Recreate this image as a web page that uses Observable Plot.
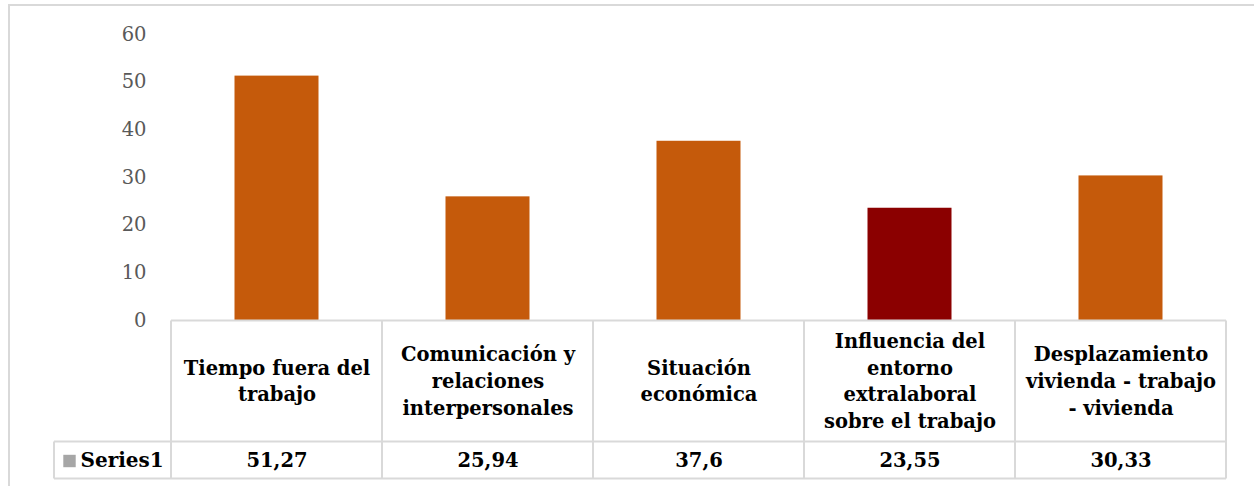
<!DOCTYPE html>
<html>
<head>
<meta charset="utf-8">
<script src="https://cdn.jsdelivr.net/npm/d3@7"></script>
<script src="https://cdn.jsdelivr.net/npm/@observablehq/plot@0.6"></script>
<style>
  body { margin: 0; background: #fff; }
  #frame { position: absolute; left: 8px; top: 4px; width: 1300px; height: 600px;
           border: 2px solid #d9d9d9; box-sizing: border-box; }
  #chart { position: absolute; left: 0; top: 0; }
</style>
</head>
<body>
<div id="frame"></div>
<div id="chart"></div>
<script>
// Dimensions of the extra-work risk factors
const categories = [
  "Tiempo fuera del trabajo",
  "Comunicación y relaciones interpersonales",
  "Situación económica",
  "Influencia del entorno extralaboral sobre el trabajo",
  "Desplazamiento vivienda - trabajo - vivienda"
];
// Wrapped labels shown in the data table header
const categoryLabels = [
  "Tiempo fuera del\ntrabajo",
  "Comunicación y\nrelaciones\ninterpersonales",
  "Situación\neconómica",
  "Influencia del\nentorno\nextralaboral\nsobre el trabajo",
  "Desplazamiento\nvivienda - trabajo\n- vivienda"
];
const values = [51.27, 25.94, 37.6, 23.55, 30.33];
const seriesName = "Series1";
const yTicks = [0, 10, 20, 30, 40, 50, 60];

const highlighted = "Influencia del entorno extralaboral sobre el trabajo";
const orange = "#C55A0B";
const darkRed = "#8B0000";
const gridColor = "#d9d9d9";
const boldSize = 19.5;

const data = categories.map((c, i) => ({
  cat: c,
  label: categoryLabels[i],
  value: values[i],
  valueText: String(values[i]).replace(".", ",")
}));

// Row geometry of the data table, in pixels below the value axis baseline
const headerRow = 121;   // height of the category row
const valueRow = 37;     // height of the series row
const legendCellLeft = 54;

// Grid lines of the data table, positioned with the band scale
function tableGrid(index, scales, values, dims) {
  const x = scales.x;
  const bw = x.bandwidth();
  const y0 = dims.height - dims.marginBottom + 0.5;
  const y1 = y0 + headerRow;
  const y2 = y1 + valueRow;
  const left = x(categories[0]);
  const right = x(categories[categories.length - 1]) + bw;
  const g = d3.create("svg:g")
    .attr("stroke", gridColor)
    .attr("stroke-width", 2)
    .attr("fill", "none");
  g.append("line").attr("x1", left).attr("x2", right).attr("y1", y0).attr("y2", y0);
  g.append("line").attr("x1", legendCellLeft).attr("x2", right).attr("y1", y1).attr("y2", y1);
  g.append("line").attr("x1", legendCellLeft).attr("x2", right).attr("y1", y2).attr("y2", y2);
  g.append("line").attr("x1", legendCellLeft).attr("x2", legendCellLeft).attr("y1", y1).attr("y2", y2);
  const edges = categories.map(c => x(c)).concat([right]);
  for (const e of edges) {
    g.append("line").attr("x1", e).attr("x2", e).attr("y1", y0).attr("y2", y2);
  }
  return g.node();
}

const plot = Plot.plot({
  width: 1254,
  height: 486,
  marginLeft: 169,
  marginRight: 26,
  marginTop: 34,
  marginBottom: 166,
  style: { fontFamily: "'DejaVu Serif', serif", background: "transparent" },
  x: { domain: categories, padding: 0, axis: null },
  y: { domain: [0, 60], axis: null },
  marks: [
    Plot.barY(data, {
      x: "cat",
      y: "value",
      fill: d => d.cat === highlighted ? darkRed : orange,
      insetLeft: 63.5,
      insetRight: 63.5
    }),
    Plot.axisY(yTicks, {
      tickSize: 0,
      tickPadding: 23,
      fontSize: 19.5,
      color: "#595959",
      label: null
    }),
    tableGrid,
    Plot.text(data, {
      x: "cat",
      text: "label",
      frameAnchor: "bottom",
      dy: 59,
      lineAnchor: "middle",
      lineHeight: 1.37,
      fontSize: boldSize,
      fontWeight: "bold",
      fill: "#000"
    }),
    Plot.text(data, {
      x: "cat",
      text: "valueText",
      frameAnchor: "bottom",
      dy: headerRow + valueRow / 2 + 1,
      lineAnchor: "middle",
      fontSize: boldSize,
      fontWeight: "bold",
      fill: "#000"
    }),
    Plot.dot([seriesName], {
      frameAnchor: "bottom-left",
      dx: -100,
      dy: headerRow + valueRow / 2 + 1,
      symbol: "square",
      r: 7,
      fill: "#a6a6a6",
      stroke: null
    }),
    Plot.text([seriesName], {
      text: d => d,
      frameAnchor: "bottom-left",
      dx: -89,
      dy: headerRow + valueRow / 2 + 1,
      textAnchor: "start",
      lineAnchor: "middle",
      fontSize: 20,
      fontWeight: "bold",
      fill: "#000"
    })
  ]
});

document.getElementById("chart").appendChild(plot);
</script>
</body>
</html>
